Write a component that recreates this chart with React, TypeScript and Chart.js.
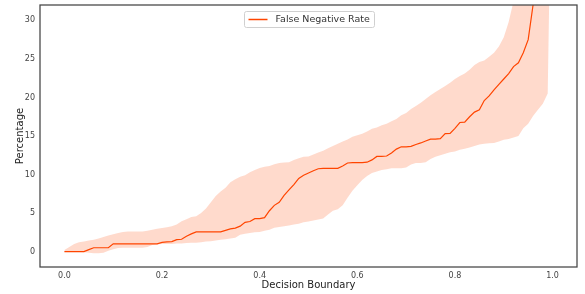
import React, { useEffect, useRef } from "react";
import { Chart, registerables } from "chart.js";

Chart.register(...registerables);

const boundaries = [
  0.0, 0.01, 0.02, 0.03, 0.04, 0.05, 0.06, 0.07, 0.08, 0.09,
  0.1, 0.11, 0.12, 0.13, 0.14, 0.15, 0.16, 0.17, 0.18, 0.19,
  0.2, 0.21, 0.22, 0.23, 0.24, 0.25, 0.26, 0.27, 0.28, 0.29,
  0.3, 0.31, 0.32, 0.33, 0.34, 0.35, 0.36, 0.37, 0.38, 0.39,
  0.4, 0.41, 0.42, 0.43, 0.44, 0.45, 0.46, 0.47, 0.48, 0.49,
  0.5, 0.51, 0.52, 0.53, 0.54, 0.55, 0.56, 0.57, 0.58, 0.59,
  0.6, 0.61, 0.62, 0.63, 0.64, 0.65, 0.66, 0.67, 0.68, 0.69,
  0.7, 0.71, 0.72, 0.73, 0.74, 0.75, 0.76, 0.77, 0.78, 0.79,
  0.8, 0.81, 0.82, 0.83, 0.84, 0.85, 0.86, 0.87, 0.88, 0.89,
  0.9, 0.91, 0.92, 0.93, 0.94, 0.95, 0.96, 0.97, 0.98, 0.99,
  1.0,
];

const meanRate = [
  0, 0, 0, 0, 0, 0.25, 0.5, 0.5, 0.5, 0.5,
  1.0, 1.0, 1.0, 1.0, 1.0, 1.0, 1.0, 1.0, 1.0, 1.0,
  1.2, 1.25, 1.3, 1.55, 1.6, 2.0, 2.3, 2.55, 2.55, 2.55,
  2.55, 2.55, 2.55, 2.75, 2.95, 3.05, 3.3, 3.8, 3.9, 4.27,
  4.27, 4.4, 5.3, 6.0, 6.4, 7.3, 8.0, 8.7, 9.5, 9.9,
  10.2, 10.5, 10.75, 10.8, 10.8, 10.8, 10.8, 11.1, 11.5, 11.55,
  11.55, 11.55, 11.6, 11.9, 12.35, 12.35, 12.4, 12.8, 13.3, 13.6,
  13.6, 13.65, 13.9, 14.1, 14.35, 14.6, 14.6, 14.65, 15.3, 15.35,
  16.0, 16.75, 16.8, 17.5, 18.1, 18.4, 19.6, 20.2, 21.0, 21.7,
  22.4, 23.1, 24.0, 24.5, 25.8, 27.5, 32.0, 38.0,
];

const upperBand = [
  0.2, 0.6, 1.0, 1.2, 1.3, 1.45, 1.55, 1.7, 1.9, 2.1,
  2.25, 2.4, 2.55, 2.6, 2.6, 2.6, 2.6, 2.7, 2.85, 2.95,
  3.05, 3.15, 3.3, 3.5, 3.95, 4.2, 4.5, 4.6, 5.0, 5.6,
  6.4, 7.2, 7.8, 8.3, 9.0, 9.4, 9.7, 9.9, 10.3, 10.6,
  10.85, 11.0, 11.1, 11.35, 11.5, 11.55, 11.6, 11.9, 12.1, 12.3,
  12.35, 12.6, 12.85, 13.1, 13.4, 13.7, 14.0, 14.3, 14.55, 14.9,
  15.1, 15.3, 15.6, 15.95, 16.1, 16.4, 16.6, 16.9, 17.2, 17.7,
  18.0, 18.5, 18.9, 19.3, 19.8, 20.3, 20.7, 21.1, 21.5, 21.9,
  22.4, 22.8, 23.1, 23.6, 24.2, 24.6, 24.8, 25.3, 25.8, 26.6,
  27.8, 29.8, 32.5, 40, 45, 50, 55, 60, 65, 70,
  75,
];

const lowerBand = [
  0, 0, 0, -0.05, -0.1, -0.15, -0.2, -0.2, -0.15, 0.1,
  0.3, 0.45, 0.5, 0.5, 0.5, 0.5, 0.5, 0.6, 0.85, 0.95,
  1.0, 1.0, 1.0, 1.05, 1.05, 1.1, 1.15, 1.15, 1.2, 1.3,
  1.35, 1.45, 1.55, 1.6, 1.7, 1.8, 2.2, 2.3, 2.4, 2.5,
  2.55, 2.7, 2.85, 3.1, 3.2, 3.3, 3.4, 3.5, 3.6, 3.8,
  3.9, 4.05, 4.15, 4.3, 4.8, 5.3, 5.5, 6.0, 7.0, 7.9,
  8.6, 9.3, 9.8, 10.2, 10.4, 10.6, 10.7, 10.8, 10.8, 10.8,
  10.9, 11.3, 11.5, 11.5, 11.6, 12.0, 12.3, 12.5, 12.7, 12.9,
  13.0, 13.2, 13.35, 13.5, 13.7, 13.9, 14.0, 14.05, 14.1, 14.3,
  14.5, 14.6, 14.8, 15.0, 16.0, 16.6, 17.6, 18.4, 19.2, 20.5,
  60,
];

const xTicks = [0.0, 0.2, 0.4, 0.6, 0.8, 1.0];
const yTicks = [0, 5, 10, 15, 20, 25, 30];

const LINE_COLOR = "#ff4500";
const FILL_COLOR = "rgba(255,69,0,0.2)";
const FONT = "'DejaVu Sans', sans-serif";

const framePlugin = {
  id: "frame",
  afterDraw(chart: any) {
    const { ctx, chartArea } = chart;
    const { left, right, top, bottom } = chartArea;
    ctx.save();
    ctx.strokeStyle = "#444";
    ctx.lineWidth = 1.25;
    ctx.strokeRect(left, top, right - left, bottom - top);
    // legend
    const label = "False Negative Rate";
    const cx = (left + right) / 2;
    const boxW = 130;
    const boxH = 16;
    const bx = Math.round(cx - boxW / 2) + 0.5;
    const by = top + 6.5;
    ctx.fillStyle = "rgba(255,255,255,0.85)";
    ctx.strokeStyle = "#d0d0d0";
    ctx.lineWidth = 1;
    ctx.beginPath();
    if ((ctx as any).roundRect) (ctx as any).roundRect(bx, by, boxW, boxH, 2);
    else ctx.rect(bx, by, boxW, boxH);
    ctx.fill();
    ctx.stroke();
    ctx.strokeStyle = LINE_COLOR;
    ctx.lineWidth = 1.5;
    ctx.beginPath();
    ctx.moveTo(bx + 4, by + boxH / 2);
    ctx.lineTo(bx + 23, by + boxH / 2);
    ctx.stroke();
    ctx.fillStyle = "#333";
    ctx.font = `9.5px ${FONT}`;
    ctx.textBaseline = "middle";
    ctx.textAlign = "left";
    ctx.fillText(label, bx + 31, by + boxH / 2 + 0.5);
    ctx.restore();
  },
};

export default function App() {
  const ref = useRef<HTMLCanvasElement | null>(null);

  useEffect(() => {
    if (!ref.current) return;
    const lower = boundaries.map((x, i) => ({ x, y: lowerBand[i] }));
    const upper = boundaries.map((x, i) => ({ x, y: upperBand[i] }));
    const mean = meanRate.map((y, i) => ({ x: boundaries[i], y }));

    const chart = new Chart(ref.current, {
      type: "line",
      data: {
        datasets: [
          {
            label: "lower",
            data: lower,
            borderWidth: 0,
            borderColor: "transparent",
            pointRadius: 0,
            fill: false,
          },
          {
            label: "upper",
            data: upper,
            borderWidth: 0,
            borderColor: "transparent",
            backgroundColor: FILL_COLOR,
            pointRadius: 0,
            fill: "-1",
          },
          {
            label: "False Negative Rate",
            data: mean,
            borderColor: LINE_COLOR,
            borderWidth: 1.2,
            pointRadius: 0,
            fill: false,
          },
        ],
      },
      options: {
        animation: false,
        responsive: false,
        maintainAspectRatio: false,
        layout: { padding: { left: 0, right: 8, top: 5, bottom: 0 } },
        plugins: {
          legend: { display: false },
          tooltip: { enabled: false },
        },
        scales: {
          x: {
            type: "linear",
            min: -0.05,
            max: 1.05,
            grid: { display: false, drawTicks: false },
            border: { display: false },
            afterFit: (s: any) => {
              s.height = 27;
              s.paddingLeft = 0;
              s.paddingRight = 0;
            },
            afterBuildTicks: (s: any) => {
              s.ticks = xTicks.map((v) => ({ value: v }));
            },
            ticks: {
              padding: 4,
              color: "#444",
              font: { family: FONT, size: 8 },
              callback: (v: any) => Number(v).toFixed(1),
            },
            title: {
              display: true,
              text: "Decision Boundary",
              color: "#222",
              font: { family: FONT, size: 10 },
              padding: { top: 0, bottom: 3 },
            },
          },
          y: {
            type: "linear",
            min: -2,
            max: 32,
            grid: { display: false, drawTicks: false },
            border: { display: false },
            afterFit: (s: any) => {
              s.width = 40;
              s.paddingTop = 0;
              s.paddingBottom = 0;
            },
            afterBuildTicks: (s: any) => {
              s.ticks = yTicks.map((v) => ({ value: v }));
            },
            ticks: {
              padding: 5,
              color: "#444",
              font: { family: FONT, size: 8 },
            },
            title: {
              display: true,
              text: "Percentage",
              color: "#222",
              font: { family: FONT, size: 10 },
              padding: { top: 14, bottom: 0 },
            },
          },
        },
      },
      plugins: [framePlugin],
    });
    return () => chart.destroy();
  }, []);

  return (
    <div style={{ position: "fixed", left: 0, top: 0, width: 585, height: 294, background: "#fff" }}>
      <canvas ref={ref} width={585} height={294} style={{ width: 585, height: 294 }} />
    </div>
  );
}
